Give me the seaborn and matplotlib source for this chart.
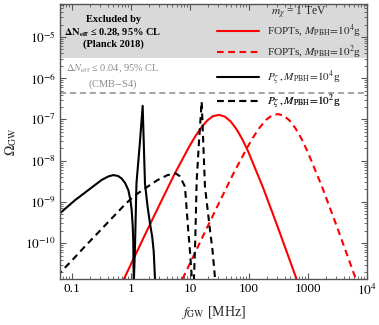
import numpy as np
import pandas as pd
import matplotlib
matplotlib.use("Agg")
import matplotlib.pyplot as plt
import seaborn as sns
from matplotlib.ticker import LogLocator, FixedLocator, FixedFormatter, NullFormatter

# ---------------- data (log10 values) ----------------
# FOPTs, M_PBH = 1e4 g  (red solid)
fopt4_logf = [-0.21, -0.01, 0.24, 0.49, 0.74, 0.99, 1.09, 1.19, 1.29, 1.39, 1.49,
              1.59, 1.69, 1.79, 1.89, 1.99, 2.24, 2.49, 2.74, 2.99]
fopt4_logO = [-11.14, -10.54, -9.79, -9.05, -8.32, -7.65, -7.41, -7.20, -7.03, -6.92, -6.89,
              -6.93, -7.05, -7.24, -7.49, -7.79, -8.66, -9.62, -10.61, -11.60]
# FOPTs, M_PBH = 1e2 g  (red dashed)
fopt2_logf = [0.79, 0.99, 1.24, 1.49, 1.74, 1.99, 2.09, 2.19, 2.29, 2.39, 2.49,
              2.59, 2.69, 2.79, 2.89, 2.99, 3.24, 3.49, 3.74, 3.99]
fopt2_logO = [-11.12, -10.52, -9.77, -9.03, -8.30, -7.63, -7.39, -7.18, -7.01, -6.90, -6.87,
              -6.91, -7.03, -7.22, -7.47, -7.77, -8.64, -9.60, -10.59, -11.58]
# P_zeta, M_PBH = 1e4 g  (black solid)
pz4_logf = [-1.25, -1.20, -0.95, -0.72, -0.50, -0.38, -0.30, -0.22, -0.16, -0.10, -0.046,
            -0.01, 0.012, 0.030, 0.039, 0.046, 0.0485, 0.051, 0.068, 0.093, 0.15, 0.198,
            0.237, 0.28, 0.322, 0.36, 0.385, 0.407, 0.415]
pz4_logO = [-9.32, -9.27, -8.96, -8.71, -8.47, -8.38, -8.35, -8.37, -8.43, -8.54, -8.71,
            -8.95, -9.20, -9.60, -10.00, -10.87, -12.5, -10.83, -10.09, -8.55, -7.58, -6.67,
            -8.55, -9.10, -9.52, -9.85, -10.2, -10.87, -12.5]
# P_zeta, M_PBH = 1e2 g  (black dashed)
pz2_logf = [-1.25, -1.19, -1.00, -0.80, -0.60, -0.36, -0.10, 0.04, 0.24, 0.45, 0.62,
            0.76, 0.83, 0.887, 0.915, 0.97, 1.00, 1.03, 1.048, 1.068, 1.09, 1.113, 1.15,
            1.198, 1.254, 1.30, 1.339, 1.38, 1.424, 1.432]
pz2_logO = [-10.80, -10.70, -10.42, -10.11, -9.81, -9.45, -9.06, -8.87, -8.67, -8.47, -8.35,
            -8.31, -8.38, -8.55, -8.63, -9.68, -10.20, -10.82, -12.5, -10.83, -9.90, -8.50, -7.60,
            -6.57, -8.63, -9.20, -9.68, -10.15, -10.85, -12.5]

planck_bound = 3.1e-6      # top grey band lower edge
cmbs4_bound = 4.4e-7       # dashed grey line

series = [
    ("FOPTs, $M_{\\rm PBH}\\!=\\!10^4$g", fopt4_logf, fopt4_logO, "#ff0000", "-"),
    ("FOPTs, $M_{\\rm PBH}\\!=\\!10^2$g", fopt2_logf, fopt2_logO, "#ff0000", "--"),
    ("$P_\\zeta\\,, M_{\\rm PBH}\\!=\\!10^4$g", pz4_logf, pz4_logO, "black", "-"),
    ("$P_\\zeta\\,, M_{\\rm PBH}\\!=\\!10^2$g", pz2_logf, pz2_logO, "black", "--"),
]

# ---------------- plotting ----------------
sns.set_theme(style="ticks")
plt.rcParams["font.family"] = ["Liberation Serif", "DejaVu Serif"]
plt.rcParams["mathtext.fontset"] = "stix"

fig = plt.figure(figsize=(3.79, 3.25), dpi=100)
ax = fig.add_axes([60 / 379, 46 / 325, 307 / 379, 275 / 325])

ax.axhspan(planck_bound, 1.0, color="#d9d9d9", lw=0, zorder=0)
ax.axhline(cmbs4_bound, color="#8c8c8c", ls=(0, (4, 2.5)), lw=1.1, zorder=1)

handles = []
for lab, lf, lo, col, ls in series:
    df = pd.DataFrame({"f": 10 ** np.array(lf), "O": 10 ** np.array(lo)})
    sns.lineplot(data=df, x="f", y="O", ax=ax, color=col, lw=1.5, sort=False,
                 estimator=None, label=lab,
                 linestyle="-" if ls == "-" else (0, (3.2, 2.2)))
    handles.append(ax.get_lines()[-1])
if ax.get_legend() is not None:
    ax.get_legend().remove()

ax.set_xscale("log")
ax.set_yscale("log")
ax.set_xlim(10 ** -1.203, 1e4)
ax.set_ylim(10 ** -10.87, 10 ** -4.2)

ax.xaxis.set_major_locator(FixedLocator([0.1, 1, 10, 100, 1000, 1e4]))
ax.xaxis.set_major_formatter(FixedFormatter(["0.1", "1", "10", "100", "1000", "$10^4$"]))
ax.xaxis.set_minor_locator(LogLocator(base=10, subs=np.arange(2, 10), numticks=20))
ax.xaxis.set_minor_formatter(NullFormatter())
ax.yaxis.set_major_locator(FixedLocator([1e-10, 1e-9, 1e-8, 1e-7, 1e-6, 1e-5]))
ax.yaxis.set_major_formatter(FixedFormatter(["$10^{-10}$", "$10^{-9}$", "$10^{-8}$",
                                             "$10^{-7}$", "$10^{-6}$", "$10^{-5}$"]))
ax.yaxis.set_minor_locator(LogLocator(base=10, subs=np.arange(2, 10), numticks=20))
ax.yaxis.set_minor_formatter(NullFormatter())

ax.tick_params(which="both", direction="in", top=True, right=True, color="#555555")
ax.tick_params(which="major", length=4, width=0.8, labelsize=9.5, labelcolor="black", pad=3)
ax.tick_params(which="minor", length=2, width=0.6)
for s in ax.spines.values():
    s.set_color("#555555")
    s.set_linewidth(1.0)

ax.set_xlabel("$f_{\\rm GW}$ [MHz]", fontsize=10, labelpad=4)
ax.set_ylabel("$\\Omega_{\\rm GW}$", fontsize=10, labelpad=4)

ax.text(0.173, 0.898, "Excluded by\n$\\mathbf{\\Delta N_{eff}}$ ≤ 0.28, 95% CL\n(Planck 2018)",
        transform=ax.transAxes, ha="center", va="center", fontsize=7.5,
        fontweight="bold", linespacing=1.25, color="black")
ax.text(0.173, 0.735, "$\\Delta N_{\\rm eff}$ ≤ 0.04, 95% CL\n(CMB$-$S4)",
        transform=ax.transAxes, ha="center", va="center", fontsize=7.5,
        linespacing=1.25, color="#8c8c8c")

# legend: title + one legend per entry (to reproduce the reference spacing)
ax.text(0.778, 0.966, "$m_\\chi$ = 1 TeV", transform=ax.transAxes,
        ha="center", va="center", fontsize=8.3)
entry_y = [0.900, 0.824, 0.731, 0.644]
for h, (lab, *_), yy in zip(handles, series, entry_y):
    lg = ax.legend([h], [lab], loc="center left", bbox_to_anchor=(0.511, yy),
                   frameon=False, fontsize=8.1, handlelength=3.7, handletextpad=0.75,
                   borderpad=0.0, borderaxespad=0.0)
    ax.add_artist(lg)

fig.savefig("out.png", dpi=100)
